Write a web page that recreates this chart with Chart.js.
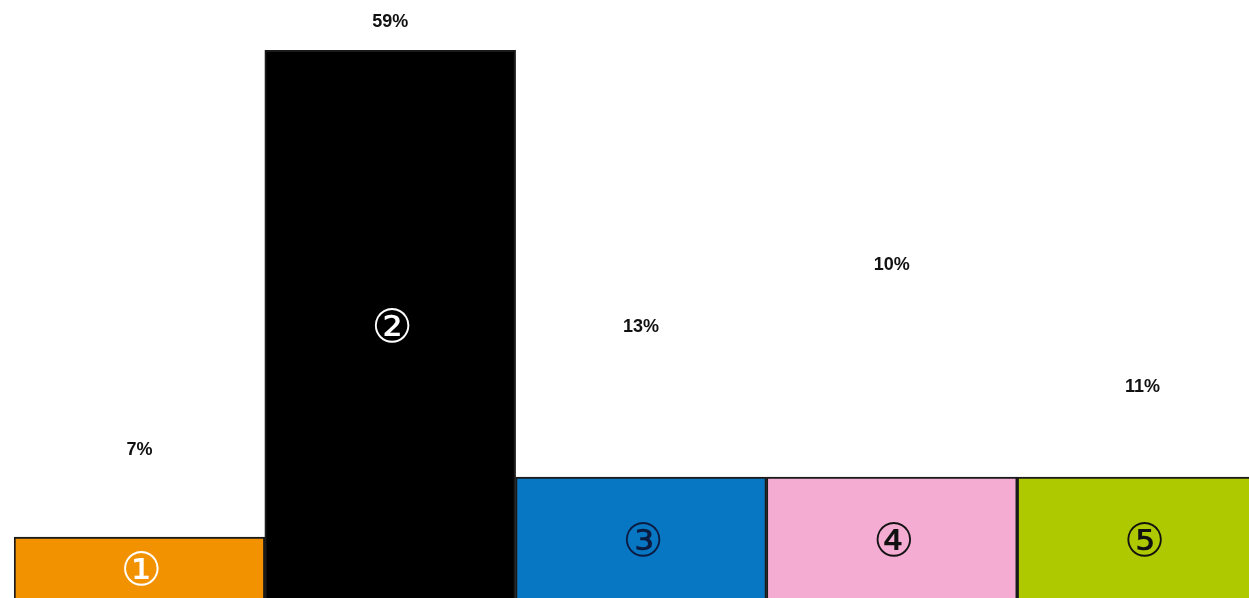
<!DOCTYPE html>
<html>
<head>
<meta charset="utf-8">
<script src="https://cdn.jsdelivr.net/npm/chart.js@4/dist/chart.umd.min.js"></script>
<style>
  html, body { margin: 0; padding: 0; background: #fff; overflow: hidden; }
  #wrap { width: 1268px; height: 598px; }
</style>
</head>
<body>
<div id="wrap"><canvas id="chart" width="1268" height="598"></canvas></div>
<script>
// categories (circled numbers shown inside the bars)
const categories = ["①", "②", "③", "④", "⑤"];
// bar heights, on a 0-100 axis
const barValues = [10.2, 91.6, 20.2, 20.2, 20.2];
// percentage labels and the level (same axis) where each one sits
const pctLabels = ["7%", "59%", "13%", "10%", "11%"];
const pctLevels = [24.7, 96.3, 45.3, 55.7, 35.3];
const barColors = ["#f39200", "#000000", "#0877c3", "#f4acd3", "#afc900"];
const numberColors = ["#ffffff", "#ffffff", "#0b1a40", "#111111", "#111111"];

const labelPlugin = {
  id: "barLabels",
  afterDatasetsDraw(chart) {
    const ctx = chart.ctx;
    const meta = chart.getDatasetMeta(0);
    const y = chart.scales.y;
    ctx.save();
    ctx.textAlign = "center";
    ctx.textBaseline = "middle";
    meta.data.forEach((bar, i) => {
      // circled number in the middle of the bar
      ctx.fillStyle = numberColors[i];
      ctx.font = "46px 'DejaVu Sans'";
      ctx.fillText(categories[i], bar.x + 2, (bar.y + bar.base) / 2 + 6);
      // percentage label
      ctx.fillStyle = "#111";
      ctx.font = "bold 18px 'Liberation Sans Narrow', 'Liberation Sans', Arial";
      ctx.fillText(pctLabels[i], bar.x, y.getPixelForValue(pctLevels[i]));
    });
    ctx.restore();
  },
};

new Chart(document.getElementById("chart"), {
  type: "bar",
  data: {
    labels: categories,
    datasets: [
      {
        data: barValues,
        backgroundColor: barColors,
        borderColor: "#1a1a1a",
        borderWidth: 2,
        borderSkipped: "bottom",
        barPercentage: 1,
        categoryPercentage: 1,
      },
    ],
  },
  options: {
    responsive: false,
    animation: false,
    layout: { padding: { left: 14, right: 0, top: 0, bottom: 0 } },
    plugins: { legend: { display: false }, tooltip: { enabled: false } },
    scales: {
      x: { display: false },
      y: { display: false, min: 0, max: 100 },
    },
  },
  plugins: [labelPlugin],
});
</script>
</body>
</html>
